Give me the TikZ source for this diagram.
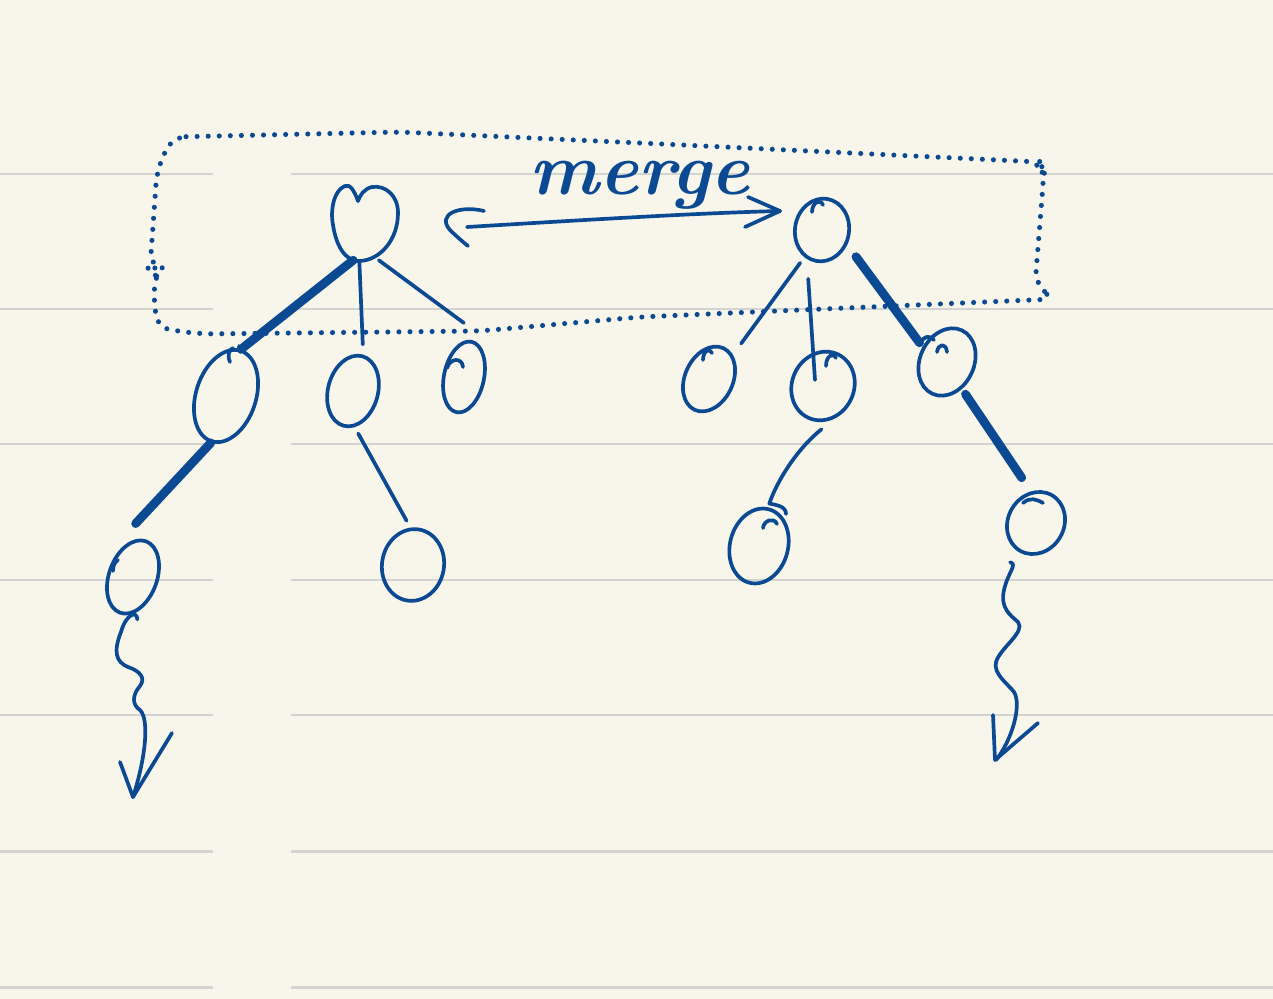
\documentclass[tikz,border=0pt]{standalone}
\usetikzlibrary{shapes.geometric}
\definecolor{paper}{HTML}{F8F6EA}
\definecolor{rule}{HTML}{D3D3D1}
\definecolor{ink}{HTML}{0B4A93}
\tikzset{
  ruleline/.style={draw=rule, line width=1.7pt},
  tnode/.style={ellipse, draw=ink, line width=2.1pt, inner sep=0pt},
  ghost/.style={ellipse, inner sep=0pt},
  edge/.style={draw=ink, line width=2.1pt, line cap=round, line join=round},
  boldedge/.style={draw=ink, line width=5pt, line cap=round},
  dotbox/.style={draw=ink, line width=2.9pt, line cap=round, dash pattern=on 0pt off 6.3pt}
}
\begin{document}
\begin{tikzpicture}[x=0.02cm, y=-0.02cm]
\fill[paper] (0,0) rectangle (1273,999);
\useasboundingbox (0,0) rectangle (1273,999);
% ruled lines
\foreach \yy in {174,309,444,580,715,851,987}{
  \draw[ruleline] (0,\yy) -- (213,\yy);
  \draw[ruleline] (291,\yy) -- (1273,\yy);
}
% nodes
\node[ghost, minimum width=1.28cm, minimum height=1.52cm] (A) at (366,225) {};
\draw[edge] (358,201) .. controls (354,190) and (350,184) .. (345,186)
  .. controls (334,190) and (330,210) .. (333,225)
  .. controls (336,245) and (345,262) .. (360,261)
  .. controls (380,260) and (398,240) .. (398,213)
  .. controls (398,195) and (385,185) .. (372,187)
  .. controls (364,189) and (360,195) .. (358,201);
\node[tnode, minimum width=1.08cm, minimum height=1.26cm, rotate=-10] (B) at (822,230) {};
\node[tnode, minimum width=1.2cm, minimum height=1.9cm, rotate=-18] (C1) at (226,396) {};
\node[tnode, minimum width=1.0cm, minimum height=1.44cm, rotate=-15] (C2) at (353,391) {};
\node[tnode, minimum width=0.8cm, minimum height=1.44cm, rotate=-12] (C3) at (464,377) {};
\node[tnode, minimum width=0.96cm, minimum height=1.52cm, rotate=-20] (D1) at (133,577) {};
\node[tnode, minimum width=1.24cm, minimum height=1.44cm, rotate=-10] (D2) at (413,565) {};
\node[tnode, minimum width=0.96cm, minimum height=1.36cm, rotate=-25] (E1) at (709,379) {};
\node[tnode, minimum width=1.24cm, minimum height=1.4cm, rotate=-25] (E2) at (823,386) {};
\node[tnode, minimum width=1.08cm, minimum height=1.4cm, rotate=-25] (E3) at (947,362) {};
\node[tnode, minimum width=1.16cm, minimum height=1.52cm, rotate=-15] (F1) at (759,546) {};
\node[tnode, minimum width=1.12cm, minimum height=1.28cm, rotate=-30] (F2) at (1036,523) {};
% pen hooks at the tops of the circles
\draw[edge] (812,212) .. controls (812,203) and (820,198) .. (823,205);
\draw[edge] (703,360) .. controls (703,350) and (710,348) .. (712,353);
\draw[edge] (826,366) .. controls (826,356) and (833,352) .. (836,358);
\draw[edge] (937,352) .. controls (938,344) and (946,342) .. (947,352);
\draw[edge] (763,528) .. controls (764,520) and (774,517) .. (777,524);
\draw[edge] (1023,503) .. controls (1030,497) and (1036,499) .. (1043,503);
\draw[edge] (230,362) .. controls (227,355) and (229,350) .. (233,348);
\draw[edge] (240,352) -- (239,346);
\draw[edge] (447,368) .. controls (450,358) and (462,357) .. (463,367);
\draw[edge] (113,571) .. controls (113,565) and (115,562) .. (118,560);
% edges
\draw[boldedge] (A.250) -- (C1.north);
\draw[edge] (A.260) -- ([yshift=0.2cm]C2.north);
\draw[edge] (A.290) -- ([xshift=-0.16cm, yshift=0.34cm]C3.north);
\draw[boldedge] (C1.south) -- ([xshift=-0.22cm, yshift=0.32cm]D1.north);
\draw[edge] ([xshift=0.3cm, yshift=-0.12cm]C2.south) -- ([xshift=-0.26cm, yshift=0.14cm]D2.north);
\draw[edge] ([xshift=-0.32cm]B.south) -- ([xshift=0.34cm, yshift=0.06cm]E1.north);
\draw[edge] ([xshift=-0.16cm, yshift=-0.32cm]B.south) -- ([xshift=-0.16cm, yshift=0.12cm]E2.center);
\draw[boldedge] ([xshift=0.36cm]B.south east) -- ([xshift=-0.4cm, yshift=-0.26cm]E3.north west);
\draw[edge] (921,342) .. controls (924,336) and (930,335) .. (934,340);
\draw[edge] ([xshift=0.28cm, yshift=-0.2cm]E2.south) .. controls (800,446) and (778,478) .. ([yshift=0.08cm]F1.north)
  .. controls (776,505) and (786,506) .. (786,514);
\draw[boldedge] ([xshift=0.22cm]E3.south east) -- ([xshift=-0.16cm, yshift=0.28cm]F2.north west);
% squiggly arrows
\coordinate (tipL) at (133,797);
\coordinate (tipR) at (996,760);
\draw[edge] ([xshift=0.36cm, yshift=-0.1cm]D1.south) .. controls (137,610) and (126,614) .. (121,632)
  .. controls (113,652) and (116,662) .. (128,667)
  .. controls (140,671) and (146,678) .. (140,686)
  .. controls (132,695) and (132,705) .. (140,710)
  .. controls (150,720) and (145,760) .. (tipL);
\draw[edge] (120,762) -- (tipL) -- (172,733);
\draw[edge] ([xshift=-0.18cm, yshift=-0.2cm]F2.south) .. controls (1018,564) and (1008,572) .. (1004,590)
  .. controls (1000,608) and (1010,615) .. (1018,622)
  .. controls (1026,632) and (1000,648) .. (996,662)
  .. controls (993,674) and (1008,684) .. (1014,692)
  .. controls (1022,705) and (1012,740) .. (tipR);
\draw[edge] (993,715) -- (995,760) -- (1038,723);
% merge arrow
\coordinate (mL) at (467,227);
\coordinate (mR) at (780,211);
\draw[edge] (mL) .. controls (600,219) and (700,213) .. (mR);
\draw[edge] (484,211) .. controls (460,205) and (436,214) .. (450,230) .. controls (456,236) and (463,242) .. (468,246);
\draw[edge] (748,197) -- (mR) -- (745,227);
\node[text=ink, anchor=base, inner sep=0pt] (mergelbl) at (640,195)
  {\fontsize{42}{42}\selectfont\bfseries\itshape merge};
% dotted box
\draw[dotbox, rounded corners=8pt]
  (172,137) -- (400,132) -- (640,143) -- (1040,162) -- (1044,172)
  -- (1035,285) -- (1055,299) -- (800,310) -- (640,317) -- (480,331)
  -- (200,334) -- (157,328) -- (153,285) -- (160,268) -- (150,268)
  -- (157,170) -- cycle;
\end{tikzpicture}
\end{document}
